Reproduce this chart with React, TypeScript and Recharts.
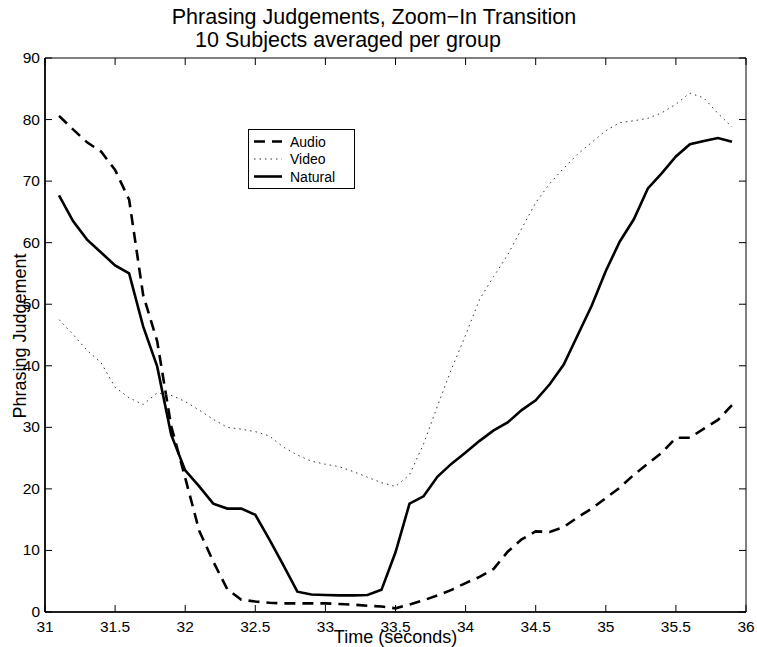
import { LineChart, Line, XAxis, YAxis, Legend, ReferenceArea } from "recharts";

const times = [
  31.1, 31.2, 31.3, 31.4, 31.5, 31.6, 31.7, 31.8, 31.9, 32.0,
  32.1, 32.2, 32.3, 32.4, 32.5, 32.6, 32.7, 32.8, 32.9, 33.0,
  33.1, 33.2, 33.3, 33.4, 33.5, 33.6, 33.7, 33.8, 33.9, 34.0,
  34.1, 34.2, 34.3, 34.4, 34.5, 34.6, 34.7, 34.8, 34.9, 35.0,
  35.1, 35.2, 35.3, 35.4, 35.5, 35.6, 35.7, 35.8, 35.9,
];

const audio = [
  80.6, 78.4, 76.3, 74.8, 71.8, 67.0, 51.5, 44.0, 30.2, 21.8,
  13.2, 8.2, 3.7, 2.0, 1.7, 1.5, 1.4, 1.4, 1.4, 1.4,
  1.3, 1.2, 1.0, 0.9, 0.6, 1.2, 1.9, 2.7, 3.6, 4.7,
  5.7, 7.0, 9.8, 11.8, 13.1, 13.0, 13.8, 15.4, 16.8, 18.5,
  20.2, 22.3, 24.1, 25.9, 28.3, 28.3, 29.8, 31.2, 33.6,
];

const video = [
  47.5, 45.1, 42.5, 40.5, 36.5, 34.8, 33.7, 35.6, 35.2, 34.2,
  32.8, 31.3, 30.0, 29.7, 29.3, 28.6, 26.8, 25.5, 24.5, 24.0,
  23.6, 22.8, 21.9, 21.0, 20.4, 22.3, 27.3, 33.5, 39.5, 45.0,
  50.8, 54.5, 58.0, 62.3, 66.5, 69.6, 72.1, 74.4, 76.3, 78.2,
  79.5, 79.8, 80.2, 81.1, 82.5, 84.3, 83.5, 81.0, 78.8,
];

const natural = [
  67.7, 63.5, 60.5, 58.4, 56.3, 55.0, 46.4, 39.9, 28.8, 23.0,
  20.4, 17.6, 16.8, 16.8, 15.8, 11.8, 7.6, 3.3, 2.85, 2.75,
  2.7, 2.7, 2.75, 3.6, 9.7, 17.6, 18.8, 22.0, 24.1, 25.9,
  27.8, 29.5, 30.8, 32.8, 34.4, 37.0, 40.2, 45.0, 49.8, 55.4,
  60.2, 63.8, 68.8, 71.3, 74.0, 76.0, 76.5, 77.0, 76.4,
];

const xTicks = [31, 31.5, 32, 32.5, 33, 33.5, 34, 34.5, 35, 35.5, 36];
const yTicks = [0, 10, 20, 30, 40, 50, 60, 70, 80, 90];

const titleLines = ["Phrasing Judgements, Zoom\u2212In Transition", "10 Subjects averaged per group"];

const series = [
  { key: "audio", name: "Audio", dash: "11 7", width: 2.6, color: "#000" },
  { key: "video", name: "Video", dash: "1.5 4", width: 1, color: "#333" },
  { key: "natural", name: "Natural", dash: undefined, width: 2.6, color: "#000" },
];

const rows = times.map((t, i) => ({ t, audio: audio[i], video: video[i], natural: natural[i] }));

const W = 757;
const H = 647;
const margin = { top: 58, right: 11, left: 5, bottom: 5 };
const Y_W = 40;
const X_H = 30;
const PLOT_W = W - margin.left - margin.right - Y_W;
const PLOT_H = H - margin.top - margin.bottom - X_H;
const TICK = 7;
const FONT = '"Liberation Sans", Arial, Helvetica, sans-serif';

function XTick({ x, y, payload }: any) {
  return (
    <g>
      <line x1={x} x2={x} y1={y} y2={y - TICK} stroke="#000" />
      <line x1={x} x2={x} y1={y - PLOT_H} y2={y - PLOT_H + TICK} stroke="#000" />
      <text x={x} y={y + 20} textAnchor="middle" fontSize={15.5} fontFamily={FONT} fill="#000">
        {payload.value}
      </text>
    </g>
  );
}

function YTick({ x, y, payload }: any) {
  return (
    <g>
      <line x1={x} x2={x + TICK} y1={y} y2={y} stroke="#000" />
      <line x1={x + PLOT_W} x2={x + PLOT_W - TICK} y1={y} y2={y} stroke="#000" />
      <text x={x - 5} y={y + 5} textAnchor="end" fontSize={15.5} fontFamily={FONT} fill="#000">
        {payload.value}
      </text>
    </g>
  );
}

function LegendBox() {
  return (
    <svg width={107} height={61} style={{ display: "block" }}>
      <rect x={0.5} y={0.5} width={106} height={59} fill="#fff" stroke="#000" />
      {series.map((s, i) => {
        const cy = 12.5 + i * 17.5;
        return (
          <g key={s.key}>
            <line x1={6} x2={34} y1={cy} y2={cy} stroke={s.color} strokeWidth={s.width} strokeDasharray={s.dash} />
            <text x={42} y={cy + 5} fontSize={14} fontFamily={FONT} fill="#000">
              {s.name}
            </text>
          </g>
        );
      })}
    </svg>
  );
}

export default function App() {
  return (
    <div style={{ position: "absolute", left: 0, top: 0, width: W, height: H, background: "#fff" }}>
      <LineChart width={W} height={H} data={rows} margin={margin}>
        <XAxis
          dataKey="t"
          type="number"
          domain={[31, 36]}
          ticks={xTicks}
          height={X_H}
          tickSize={0}
          tickMargin={0}
          tickLine={false}
          tick={<XTick />}
          axisLine={{ stroke: "#000", strokeWidth: 1.6 }}
          interval={0}
          label={({ viewBox }: any) => (
            <text
              x={viewBox.x + viewBox.width / 2}
              y={viewBox.y + 31}
              textAnchor="middle"
              fontSize={18}
              fontFamily={FONT}
              fill="#000"
            >
              Time (seconds)
            </text>
          )}
        />
        <YAxis
          type="number"
          domain={[0, 90]}
          ticks={yTicks}
          width={Y_W}
          tickSize={0}
          tickMargin={0}
          tickLine={false}
          tick={<YTick />}
          axisLine={{ stroke: "#000", strokeWidth: 1.6 }}
          interval={0}
          label={({ viewBox }: any) => {
            const cx = viewBox.x + 20.5;
            const cy = viewBox.y + viewBox.height / 2 + 1;
            return (
              <text
                x={cx}
                y={cy}
                transform={`rotate(-90 ${cx} ${cy})`}
                textAnchor="middle"
                fontSize={18}
                fontFamily={FONT}
                fill="#000"
              >
                Phrasing Judgement
              </text>
            );
          }}
        />
        <ReferenceArea x1={31} x2={36} y1={0} y2={90} fill="none" stroke="#000" strokeWidth={1} />
        {series.map((s) => (
          <Line
            key={s.key}
            dataKey={s.key}
            name={s.name}
            type="linear"
            stroke={s.color}
            strokeWidth={s.width}
            strokeDasharray={s.dash}
            dot={false}
            activeDot={false}
            isAnimationActive={false}
          />
        ))}
        <Legend
          layout="horizontal"
          verticalAlign="middle"
          width={108}
          height={62}
          wrapperStyle={{ top: 129, left: 248 }}
          content={() => <LegendBox />}
        />
      </LineChart>
      <svg width={W} height={60} style={{ position: "absolute", left: 0, top: 0, pointerEvents: "none" }}>
        <text x={374} y={24} textAnchor="middle" fontSize={21.5} fontFamily={FONT} fill="#000">
          {titleLines[0]}
        </text>
        <text x={195} y={47} textAnchor="start" fontSize={21.5} fontFamily={FONT} fill="#000">
          {titleLines[1]}
        </text>
      </svg>
    </div>
  );
}
